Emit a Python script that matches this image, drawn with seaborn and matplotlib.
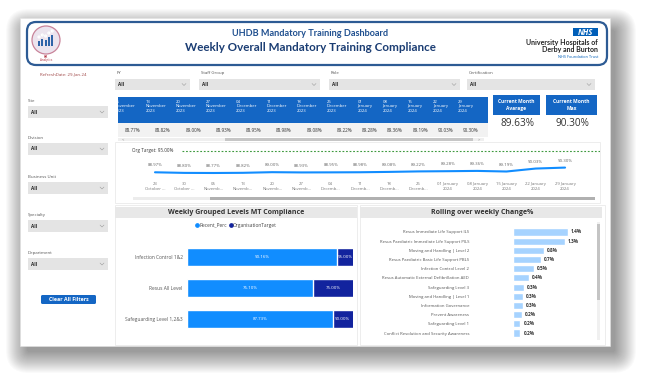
"""
Odtworzenie dashboardu UHDB Mandatory Training (seaborn + matplotlib)
"""

import numpy as np
import pandas as pd
import matplotlib
matplotlib.use("Agg")
import matplotlib.pyplot as plt
from matplotlib.patches import Rectangle, FancyBboxPatch, Circle
from matplotlib.lines import Line2D
import seaborn as sns

W, H = 651, 390

# Dane
weeks = ["23 October 2023", "30 October 2023", "06 November 2023", "13 November 2023",
         "20 November 2023", "27 November 2023", "04 December 2023", "11 December 2023",
         "18 December 2023", "25 December 2023", "01 January 2024", "08 January 2024",
         "15 January 2024", "22 January 2024", "29 January 2024"]
weekly_perc = [88.97, 88.80, 88.77, 88.82, 89.00, 88.93, 88.95, 88.98, 89.08, 89.22,
               89.28, 89.36, 89.19, 90.03, 90.30]
org_target = 95.00
table_start = 2  # tabela pokazuje tygodnie od 06 November

cur_month_avg = 89.63
cur_month_max = 90.30

groups = ["Infection Control 1&2", "Resus All Level", "Safeguarding Level 1,2&3"]
recent_perc = [90.16, 76.10, 87.73]
group_targets = [95.00, 75.00, 90.00]

courses = ["Resus Immediate Life Support ILS",
           "Resus Paediatric Immediate Life Support PILS",
           "Moving and Handling | Level 2",
           "Resus Paediatric Basic Life Support PBLS",
           "Infection Control Level 2",
           "Resus Automatic External Defibrillation AED",
           "Safeguarding Level 3",
           "Moving and Handling | Level 1",
           "Information Governance",
           "Prevent Awareness",
           "Safeguarding Level 1",
           "Conflict Resolution and Security Awareness"]
weekly_change = [1.40, 1.32, 0.79, 0.70, 0.53, 0.41, 0.28, 0.26, 0.26, 0.23, 0.19, 0.19]

top_filters = ["FY", "Staff Group", "Role", "Certification"]
left_filters = ["Site", "Division", "Business Unit", "Specialty", "Department"]
refresh_date = "29-Jan-24"

# Kolory
PBI_BLUE = "#1466c4"
LINE_BLUE = "#118DFF"
DARK_BLUE = "#12239E"
LIGHT_BAR = "#a6d3ff"
TXT = "#555555"
NARROW = ["Lato", "DejaVu Sans"]

sns.set_theme(style="white")
plt.rcParams["font.family"] = ["Open Sans", "DejaVu Sans"]

fig = plt.figure(figsize=(W / 100, H / 100), dpi=100)
fig.patch.set_facecolor("white")


def add_ax(x0, y0, x1, y1, zorder=2):
    """Osie w pikselach (y od góry)."""
    ax = fig.add_axes([x0 / W, 1 - y1 / H, (x1 - x0) / W, (y1 - y0) / H], zorder=zorder)
    return ax


bg = add_ax(0, 0, W, H, zorder=0)
bg.set_xlim(0, W)
bg.set_ylim(H, 0)
bg.axis("off")


def rect(x0, y0, x1, y1, ax=bg, **kw):
    ax.add_patch(Rectangle((x0, y0), x1 - x0, y1 - y0, **kw))


def chevron(x, y, ax=bg):
    ax.plot([x - 2, x, x + 2], [y - 1, y + 1, y - 1], color="#9a9a9a", lw=0.4)


def dropdown(x0, y0, x1, y1):
    rect(x0, y0, x1, y1, facecolor="#e4e4e4", edgecolor="none")
    bg.text(x0 + 3, (y0 + y1) / 2, "All", fontsize=3.3, fontweight="bold",
            color="#222222", va="center", ha="left")
    chevron(x1 - 6, (y0 + y1) / 2)


# Cień i panel
for k in range(22):
    m = k * 1.0
    bg.add_patch(FancyBboxPatch((27 - m, 30 - m), 588 + 2 * m, 322 + 2 * m,
                                boxstyle="round,pad=0,rounding_size=%.1f" % (2 + m),
                                facecolor="black", edgecolor="none", alpha=0.02))
rect(20, 18, 610, 346, facecolor="white", edgecolor="#e2e2e2", lw=0.4)

# Nagłówek
bg.add_patch(FancyBboxPatch((27, 22), 580, 43, boxstyle="round,pad=0,rounding_size=9",
                            facecolor="white", edgecolor="#2d5b94", lw=1.6))
bg.add_patch(Circle((46, 40), 14, facecolor="#ece4ee", edgecolor="#c9849a", lw=0.9))
for i, hgt in enumerate([5, 7, 6, 9, 11]):
    rect(38 + i * 3.3, 46 - hgt, 40 + i * 3.3, 46, facecolor="#2f64a8", edgecolor="none")
    bg.add_patch(Circle((39 + i * 3.3, 44 - hgt - 2), 0.9, facecolor="#2f64a8"))
bg.text(46, 57, "HR", fontsize=2.2, color="#b03040", ha="center", va="center", fontweight="bold")
bg.text(46, 60, "Analytics", fontsize=2.2, color="#b03040", ha="center", va="center")

bg.text(310, 34, "UHDB Mandatory Training Dashboard", fontsize=6.6, fontweight="bold",
        color="#1f4f8f", ha="center", va="center", family=NARROW)
bg.text(310, 47.5, "Weekly Overall Mandatory Training Compliance", fontsize=8.4,
        fontweight="bold", color="#1b3d73", ha="center", va="center", family=NARROW)

rect(573, 28, 598, 36, facecolor="#005EB8", edgecolor="none")
bg.text(585.5, 32.2, "NHS", fontsize=5.6, fontweight="bold", fontstyle="italic",
        color="white", ha="center", va="center")
bg.text(598, 42, "University Hospitals of", fontsize=5, fontweight="bold",
        color="#222222", ha="right", va="center", family=NARROW)
bg.text(598, 49.5, "Derby and Burton", fontsize=5, fontweight="bold",
        color="#222222", ha="right", va="center", family=NARROW)
bg.text(598, 56.5, "NHS Foundation Trust", fontsize=2.8, color="#005EB8",
        ha="right", va="center")

# Filtry
bg.text(40, 74, "RefreshDate: " + refresh_date, fontsize=3.2, color="#a04848", va="center")
top_pos = [(115, 190), (199, 320), (329, 460), (467, 595)]
for name, (x0, x1) in zip(top_filters, top_pos):
    bg.text(x0 + 2, 73, name, fontsize=3.2, color=TXT, va="center")
    dropdown(x0, 79, x1, 90)

left_y = [101, 138, 177, 215, 253]
for name, y in zip(left_filters, left_y):
    bg.text(28, y, name, fontsize=3.2, color=TXT, va="center")
    dropdown(28, y + 5, 108, y + 17)

bg.add_patch(FancyBboxPatch((41, 295), 55, 9, boxstyle="round,pad=0,rounding_size=1.5",
                            facecolor=PBI_BLUE, edgecolor="none"))
bg.text(68.5, 299.7, "Clear All Filters", fontsize=3.8, fontweight="bold", color="white",
        ha="center", va="center")

# Tabela tygodniowa
ax_tab = add_ax(118, 97, 488, 137, zorder=3)
ax_tab.set_xlim(118, 488)
ax_tab.set_ylim(137, 97)
ax_tab.axis("off")
rect(118, 97, 488, 123, ax=ax_tab, facecolor=PBI_BLUE, edgecolor="none")
rect(118, 123, 488, 137, ax=ax_tab, facecolor="#f2f2f2", edgecolor="none")
x0 = 113
for week, val in zip(weeks[table_start:], weekly_perc[table_start:]):
    w = 25.2 if "January" in week else 30.3
    ax_tab.text(x0 + 2, 100, "\n".join(week.split(" ")), fontsize=3.1, color="white",
                va="top", ha="left", linespacing=1.15, clip_on=True)
    ax_tab.text(x0 + w - 3, 130, f"{val:.2f}%", fontsize=3.3, color="#333333",
                va="center", ha="right", clip_on=True)
    x0 += w
rect(118, 138, 484, 141, facecolor="#efefef", edgecolor="none")
rect(225, 138, 473, 141, facecolor="#c6c6c6", edgecolor="none")
bg.text(122, 139.5, "<", fontsize=3, color="#888888", va="center")
bg.text(478, 139.5, ">", fontsize=3, color="#888888", va="center")

# Karty
for (cx0, cx1), title, val in zip([(493, 540), (546, 597)],
                                  ["Current Month\nAvarage", "Current Month\nMax"],
                                  [cur_month_avg, cur_month_max]):
    rect(cx0, 95, cx1, 115, facecolor=PBI_BLUE, edgecolor="none")
    bg.text((cx0 + cx1) / 2, 105, title, fontsize=3.5, fontweight="bold", color="white",
            ha="center", va="center", linespacing=1.5)
    bg.text((cx0 + cx1) / 2 + 1, 123.5, f"{val:.2f}%", fontsize=7.2, color="#333333",
            ha="center", va="center")

# Wykres liniowy
rect(115, 142, 600, 203, facecolor="white", edgecolor="#e6e6e6", lw=0.5)
ax_line = add_ax(130, 145, 600, 180)
step = 29.29
ax_line.set_xlim(-25 / step, 445 / step)
ax_line.set_ylim(org_target - 29 / 3.53, org_target + 6 / 3.53)
df_line = pd.DataFrame({"idx": np.arange(len(weeks)), "perc": weekly_perc})
sns.lineplot(data=df_line, x="idx", y="perc", ax=ax_line, color=LINE_BLUE, lw=1.5)
ax_line.axhline(org_target, xmin=52 / 470, xmax=1, color="#3f9a3f", lw=0.8,
                ls=(0, (1.6, 1.6)))
ax_line.text(-23 / step, org_target, f"Org Target: {org_target:.2f}%", fontsize=3.3,
             color="#333333", va="center", ha="left")
for i, v in enumerate(weekly_perc):
    ax_line.annotate(f"{v:.2f}%", (i, v), xytext=(0, 3.5), textcoords="offset points",
                     fontsize=3.2, color="#666666", ha="center", va="bottom")
xt = []
for week in weeks:
    d, mth, yr = week.split(" ")
    if mth == "January":
        xt.append(f"{d} {mth}\n{yr}")
    else:
        xt.append(f"{d}\n{mth[:6]}..." if len(mth) > 7 else f"{d}\n{mth} ...")
ax_line.set_xticks(np.arange(len(weeks)))
ax_line.set_xticklabels(xt, fontsize=3.1, color="#777777", linespacing=1.3)
ax_line.tick_params(axis="x", length=0, pad=1.5)
ax_line.set_yticks([])
ax_line.set_xlabel("")
ax_line.set_ylabel("")
sns.despine(ax=ax_line, left=True, bottom=True)
ax_line.patch.set_alpha(0)
rect(133, 197, 595, 200, facecolor="#ececec", edgecolor="none")
rect(210, 197, 595, 200, facecolor="#b0b0b0", edgecolor="none")

# Karta: Weekly Grouped Levels MT Compliance
rect(115, 205, 357, 345, facecolor="white", edgecolor="#e6e6e6", lw=0.5)
rect(115, 207, 357, 218, facecolor="#e8e8e8", edgecolor="none")
bg.text(236, 212.5, "Weekly Grouped Levels MT Compliance", fontsize=5, fontweight="bold",
        color="#333333", ha="center", va="center")
ax_bar = add_ax(187, 241.5, 353, 334.5)
df_bar = pd.DataFrame({"group": groups, "recent": recent_perc, "target": group_targets})
df_bar["stack"] = df_bar["recent"] + df_bar["target"]
sns.barplot(data=df_bar, y="group", x="stack", color=DARK_BLUE, saturation=1,
            width=0.58, ax=ax_bar, orient="h")
sns.barplot(data=df_bar, y="group", x="recent", color=LINE_BLUE, saturation=1,
            width=0.58, ax=ax_bar, orient="h")
ax_bar.set_xlim(0, 100)
for i, row in df_bar.iterrows():
    ax_bar.text(row["recent"] / 2, i, f"{row['recent']:.2f}%", fontsize=3.2,
                color="white", ha="center", va="center")
    ax_bar.text((row["recent"] + 100) / 2, i, f"{row['target']:.2f}%", fontsize=3.2,
                color="white", ha="center", va="center")
ax_bar.set_xlabel("")
ax_bar.set_ylabel("")
ax_bar.set_xticks([])
ax_bar.tick_params(axis="y", length=0, pad=3, labelsize=3.5, labelcolor=TXT)
sns.despine(ax=ax_bar, left=True, bottom=True)
ax_bar.patch.set_alpha(0)
handles = [Line2D([], [], marker="o", ls="", color=LINE_BLUE, markersize=2.4),
           Line2D([], [], marker="o", ls="", color=DARK_BLUE, markersize=2.4)]
bg.legend(handles, ["Recent_Perc", "OrganisationTarget"], loc="center",
          bbox_to_anchor=(236, 225), bbox_transform=bg.transData, ncol=2,
          frameon=False, fontsize=3.5, handletextpad=0.05, columnspacing=0.5,
          handlelength=0.8, labelcolor="#444444")

# Karta: Rolling over weekly Change%
rect(360, 205, 605, 345, facecolor="white", edgecolor="#e6e6e6", lw=0.5)
rect(360, 207, 602, 218, facecolor="#e8e8e8", edgecolor="none")
bg.text(482, 212.5, "Rolling over weekly Change%", fontsize=5, fontweight="bold",
        color="#333333", ha="center", va="center")
ax_roll = add_ax(513, 227.4, 592, 337.6)
df_roll = pd.DataFrame({"course": courses, "change": weekly_change})
sns.barplot(data=df_roll, y="course", x="change", color=LIGHT_BAR, saturation=1,
            width=0.78, ax=ax_roll, orient="h")
ax_roll.set_xlim(0, 79 / 39.3)
for i, v in enumerate(weekly_change):
    ax_roll.text(v + 0.08, i, f"{v:.1f}%", fontsize=3.4, fontweight="bold",
                 color="#333333", ha="left", va="center")
ax_roll.set_xlabel("")
ax_roll.set_ylabel("")
ax_roll.set_xticks([])
ax_roll.tick_params(axis="y", length=0, pad=31.5, labelsize=3.1, labelcolor=TXT)
sns.despine(ax=ax_roll, left=True, bottom=True)
ax_roll.patch.set_alpha(0)
rect(597, 222, 599.5, 340, facecolor="#f0f0f0", edgecolor="none")
rect(597, 224, 599.5, 300, facecolor="#c4c4c4", edgecolor="none")

fig.savefig("out.png", dpi=100)
